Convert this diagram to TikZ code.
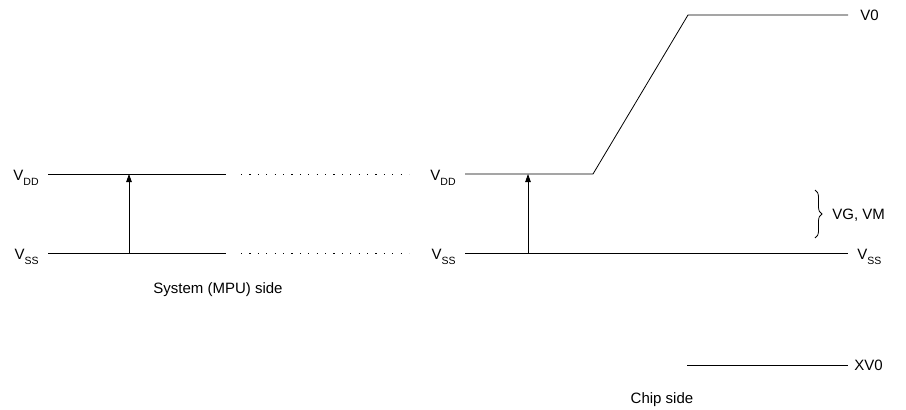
\documentclass[tikz,border=0pt]{standalone}
\usepackage{fontspec}
\setmainfont{Liberation Sans}
\usetikzlibrary{arrows.meta,decorations.pathreplacing}
\newcommand\vsub[1]{\raisebox{-5.5pt}{\fontsize{10.5}{10.5}\selectfont #1}}

\begin{document}
\begin{tikzpicture}[x=1pt,y=-1pt,line width=0.8pt,
		font=\fontsize{15}{17}\selectfont,
		lbl/.style={inner sep=0pt},
		rail/.style={draw},
		dotrail/.style={draw,dash pattern=on 1.2pt off 7.2pt},
		up/.style={-{Triangle[length=8pt,width=5.5pt]}}]
			\useasboundingbox (0,0) rectangle (906,410);
			% system side
			\coordinate (dd0) at (48,174);
			\coordinate (dd1) at (226,174);
			\coordinate (ss0) at (48,253);
			\coordinate (ss1) at (226,253);
			\coordinate (a0) at (129,253);
			\coordinate (a1) at (129,174);
			% dotted part
			\coordinate (dd2) at (241,174);
			\coordinate (dd3) at (409,174);
			\coordinate (ss2) at (241,253);
			\coordinate (ss3) at (409,253);
			% chip side
			\coordinate (dd4) at (465,174);
			\coordinate (k0) at (593,174);
			\coordinate (k1) at (688,15);
			\coordinate (v0) at (848,15);
			\coordinate (ss4) at (465,253);
			\coordinate (ss5) at (848,253);
			\coordinate (b0) at (528,253);
			\coordinate (b1) at (528,174);
			\coordinate (x0) at (687,365);
			\coordinate (x1) at (848,365);
			\coordinate (g0) at (815,190);
			\coordinate (g1) at (815,238);
			\node (ldd) [lbl, anchor=base east] at ([xshift=-9pt,yshift=-6pt]dd0) {V\vsub{DD}};
			\node (lss) [lbl, anchor=base east] at ([xshift=-9pt,yshift=-6pt]ss0) {V\vsub{SS}};
			\node (ldd2) [lbl, anchor=base east] at ([xshift=-9pt,yshift=-6pt]dd4) {V\vsub{DD}};
			\node (lss2) [lbl, anchor=base east] at ([xshift=-9pt,yshift=-6pt]ss4) {V\vsub{SS}};
			\node (lv0) [lbl, anchor=base west] at ([xshift=12pt,yshift=-5.5pt]v0) {V0};
			\node (lss3) [lbl, anchor=base west] at ([xshift=9pt,yshift=-6pt]ss5) {V\vsub{SS}};
			\node (lx) [lbl, anchor=base west] at ([xshift=6pt,yshift=-5.5pt]x1) {XV0};
			\node (lg) [lbl, anchor=base west] at (832,219) {VG, VM};
			\node (sys) [lbl, anchor=base] at (218,293) {System (MPU) side};
			\node (chip) [lbl, anchor=base] at (662,403) {Chip side};
			\draw[rail] (dd0) -- (dd1);
			\draw[rail] (ss0) -- (ss1);
			\draw[dotrail] (dd2) -- (dd3);
			\draw[dotrail] (ss2) -- (ss3);
			\draw[rail] (dd4) -- (k0) -- (k1) -- (v0);
			\draw[rail] (ss4) -- (ss5);
			\draw[rail] (x0) -- (x1);
			\draw[up] (a0) -- (a1);
			\draw[up] (b0) -- (b1);
			\draw[decorate,decoration={brace,amplitude=7pt}] (g0) -- (g1);
		\end{tikzpicture}
\end{document}
